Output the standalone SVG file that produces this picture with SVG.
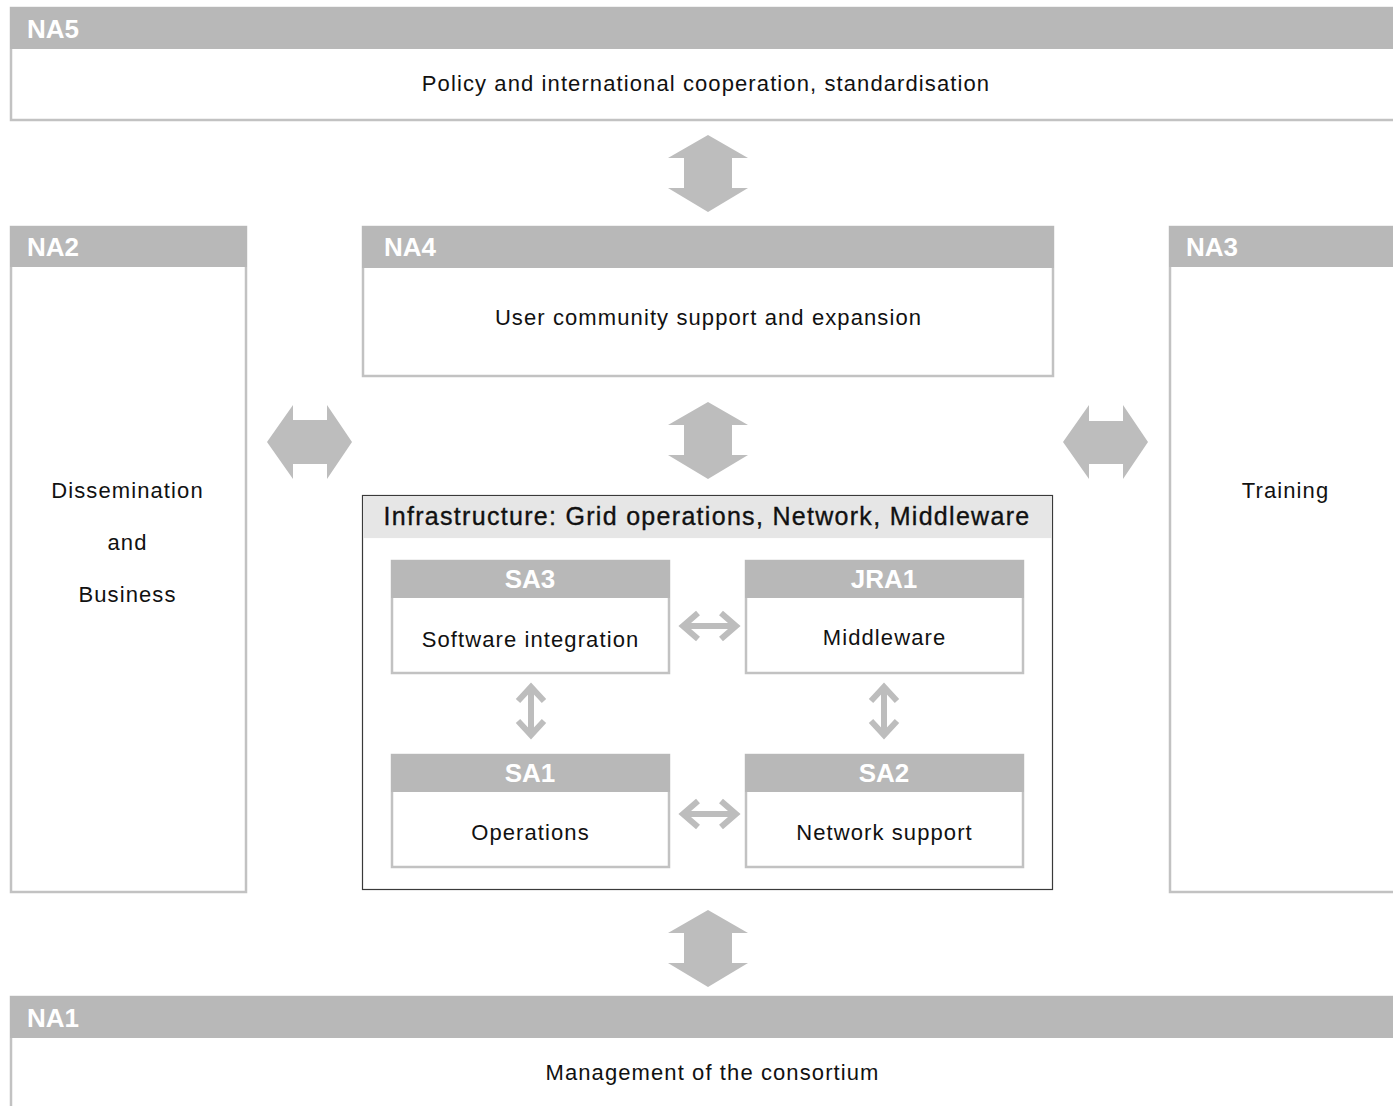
<svg xmlns="http://www.w3.org/2000/svg" width="1393" height="1106" viewBox="0 0 1393 1106">
<style>
.box{fill:#fff;stroke:#c2c2c2;stroke-width:2.5}
.hdr{fill:#b8b8b8}
.hl{font-family:"Liberation Sans",Arial,sans-serif;font-weight:bold;font-size:26px;fill:#fff}
.t{font-family:"Liberation Sans",Arial,sans-serif;font-size:22px;letter-spacing:1.1px;fill:#111}
.big{fill:#bdbdbd}
.thin{fill:none;stroke:#bdbdbd;stroke-width:6}
</style>
<rect width="1393" height="1106" fill="#fff"/>
<g id="NA5">
<rect class="box" x="11" y="8" width="1392" height="112"/>
<rect class="hdr" x="10" y="7" width="1383" height="42"/>
<text class="hl" x="27" y="38">NA5</text>
<text class="t" x="706" y="91" text-anchor="middle">Policy and international cooperation, standardisation</text>
</g>
<g id="NA2">
<rect class="box" x="11" y="227" width="235" height="665"/>
<rect class="hdr" x="10" y="226" width="237" height="41"/>
<text class="hl" x="27" y="256">NA2</text>
<text class="t" x="127.5" y="498" text-anchor="middle">Dissemination</text>
<text class="t" x="127.5" y="550" text-anchor="middle">and</text>
<text class="t" x="127.5" y="602" text-anchor="middle">Business</text>
</g>
<g id="NA4">
<rect class="box" x="363" y="227" width="690" height="149"/>
<rect class="hdr" x="362" y="226" width="692" height="42"/>
<text class="hl" x="384" y="256">NA4</text>
<text class="t" x="708.5" y="325" text-anchor="middle">User community support and expansion</text>
</g>
<g id="NA3">
<rect class="box" x="1170" y="227" width="230" height="665"/>
<rect class="hdr" x="1169" y="226" width="224" height="41"/>
<text class="hl" x="1186" y="256">NA3</text>
<text class="t" x="1285.5" y="498" text-anchor="middle">Training</text>
</g>
<g id="Infrastructure">
<rect x="362.5" y="495.5" width="690" height="394" fill="#fff" stroke="#3a3a3a" stroke-width="1.2"/>
<rect x="363.1" y="496.1" width="688.8" height="42" fill="#e6e6e6"/>
<text x="707" y="525" text-anchor="middle" font-family="Liberation Sans,Arial,sans-serif" font-size="25" letter-spacing="1.3" fill="#111" stroke="#111" stroke-width="0.35">Infrastructure: Grid operations, Network, Middleware</text>
</g>
<g id="SA3">
<rect class="box" x="392" y="561" width="277" height="112"/>
<rect class="hdr" x="391" y="560" width="279" height="38"/>
<text class="hl" x="530" y="588" text-anchor="middle">SA3</text>
<text class="t" x="530.5" y="647" text-anchor="middle">Software integration</text>
</g>
<g id="JRA1">
<rect class="box" x="746" y="561" width="277" height="112"/>
<rect class="hdr" x="745" y="560" width="279" height="38"/>
<text class="hl" x="884" y="588" text-anchor="middle">JRA1</text>
<text class="t" x="884.5" y="645" text-anchor="middle">Middleware</text>
</g>
<g id="SA1">
<rect class="box" x="392" y="755" width="277" height="112"/>
<rect class="hdr" x="391" y="754" width="279" height="38"/>
<text class="hl" x="530" y="782" text-anchor="middle">SA1</text>
<text class="t" x="530.5" y="840" text-anchor="middle">Operations</text>
</g>
<g id="SA2">
<rect class="box" x="746" y="755" width="277" height="112"/>
<rect class="hdr" x="745" y="754" width="279" height="38"/>
<text class="hl" x="884" y="782" text-anchor="middle">SA2</text>
<text class="t" x="884.5" y="840" text-anchor="middle">Network support</text>
</g>
<g id="NA1">
<rect class="box" x="11" y="997" width="1392" height="120"/>
<rect class="hdr" x="10" y="996" width="1383" height="42"/>
<text class="hl" x="27" y="1027">NA1</text>
<text class="t" x="712.5" y="1080" text-anchor="middle">Management of the consortium</text>
</g>
<g id="connectors">
<polygon class="big" points="708,135 748,158 732,158 732,188 748,188 708,212 668,188 684,188 684,158 668,158"/>
<polygon class="big" points="708,402 748,425 732,425 732,455 748,455 708,479 668,455 684,455 684,425 668,425"/>
<polygon class="big" points="708,910 748,933 732,933 732,963 748,963 708,987 668,963 684,963 684,933 668,933"/>
<polygon class="big" points="267,442 293,405 293,420 327,420 327,405 352,442 327,479 327,464 293,464 293,479"/>
<polygon class="big" points="1063,442 1089,405 1089,421 1123,421 1123,405 1148,442 1123,479 1123,464 1089,464 1089,479"/>
<g class="thin">
<path d="M683,626 H736 M698,613 L683,626 L698,639 M721,613 L736,626 L721,639"/>
<path d="M683,814 H736 M698,801 L683,814 L698,827 M721,801 L736,814 L721,827"/>
<path d="M531,687 V735 M518,701 L531,687 L544,701 M518,721 L531,735 L544,721"/>
<path d="M884,687 V735 M871,701 L884,687 L897,701 M871,721 L884,735 L897,721"/>
</g>
</g>
</svg>
